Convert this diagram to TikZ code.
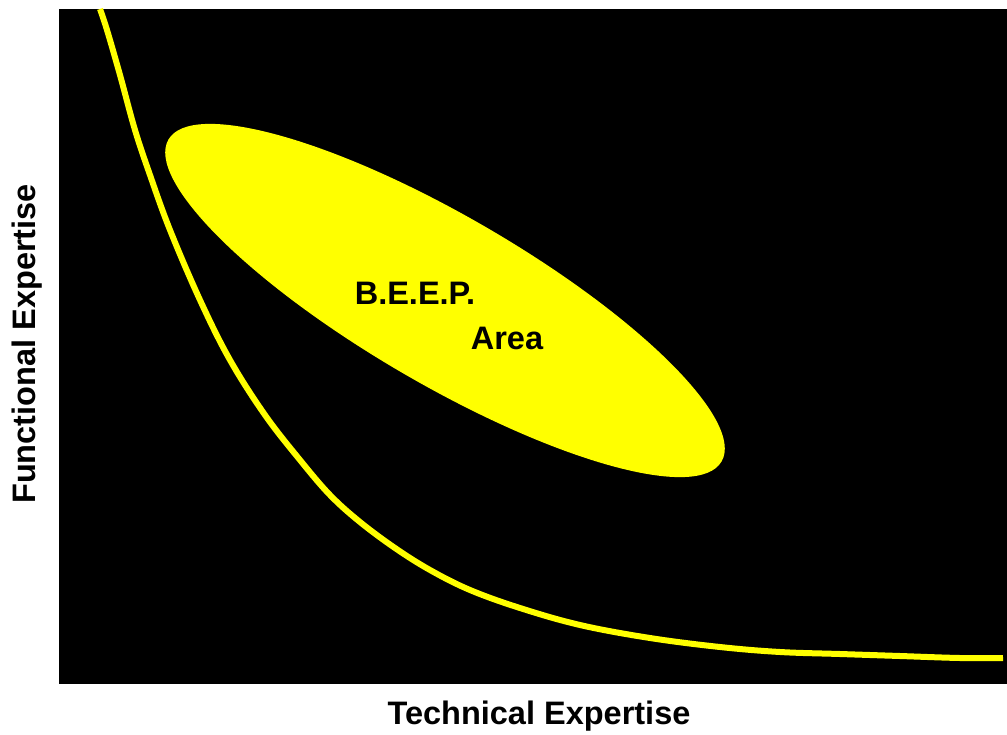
\documentclass[tikz,border=0pt]{standalone}
\usepackage{fontspec}
\setmainfont{Liberation Sans}
\definecolor{ylw}{RGB}{255,255,0}
\begin{document}
\begin{tikzpicture}[x=1pt,y=-1pt,
  lbl/.style={font=\bfseries\fontsize{32.5}{36}\selectfont, text=black, inner sep=0pt},
  inlbl/.style={font=\bfseries\fontsize{32.5}{36}\selectfont, text=black, inner sep=0pt}]
\useasboundingbox (0,0) rectangle (1007,734);
\fill[white] (0,0) rectangle (1007,734);
\fill[black] (59,9) rectangle (1007,684);
\fill[ylw] (445,300.5) ellipse[x radius=320, y radius=84, rotate=-30.2];
\draw[ylw, line width=6pt, line cap=butt, line join=round] plot[smooth, tension=0.6] coordinates {
 (100,9) (107,30) (120,75) (135,130) (150,175) (170,230) (200,300) (230,360)
 (265,415) (300,460) (330,495) (360,522) (395,548) (430,570) (470,590) (520,608)
 (580,625) (650,638) (720,647) (780,652) (840,654) (900,656) (960,658) (1003,658)};
\node[inlbl] (beep) at (415,293) {B.E.E.P.};
\node[inlbl] (area) at (507,338) {Area};
\node[lbl] (tech) at (539,716) {Technical Expertise};
\node[lbl, rotate=90] (func) at (27,344) {Functional Expertise};
\end{tikzpicture}
\end{document}
